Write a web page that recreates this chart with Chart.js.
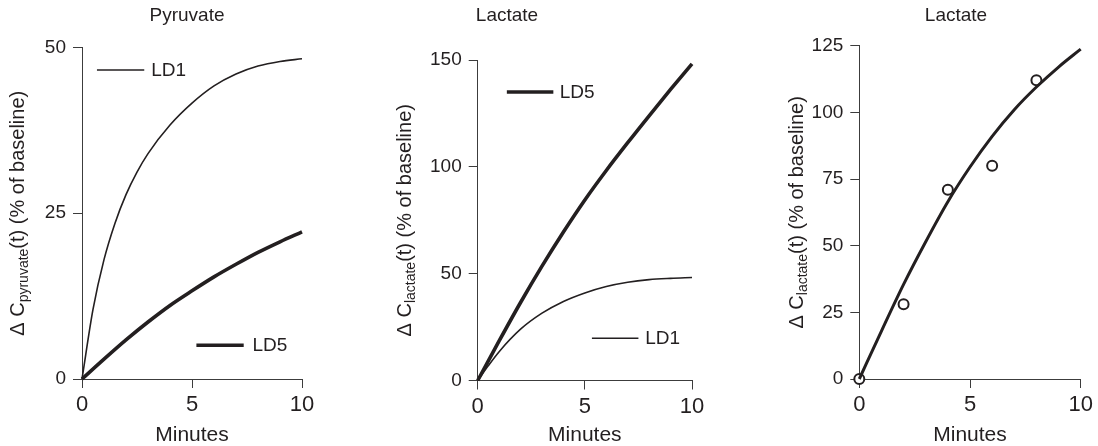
<!DOCTYPE html>
<html>
<head>
<meta charset="utf-8">
<script src="https://cdn.jsdelivr.net/npm/chart.js@4"></script>
<style>
  body { margin: 0; background: #fff; }
  #wrap { position: relative; width: 1098px; height: 446px; }
  canvas { position: absolute; top: 0; }
</style>
</head>
<body>
<div id="wrap">
  <canvas id="p1" width="330" height="446" style="left:0px"></canvas>
  <canvas id="p2" width="380" height="446" style="left:330px"></canvas>
  <canvas id="p3" width="388" height="446" style="left:710px"></canvas>
</div>
<script>
// values (minutes / % of baseline)
const pyrTimeLD1 = [0, 0.5, 1, 1.5, 2, 2.5, 3, 4, 5, 6, 7, 8, 9, 10];
const pyrLD1 = [0, 10.5, 18, 23.5, 27.8, 31.2, 34, 38.3, 41.6, 44.2, 46, 47.2, 47.9, 48.3];
const pyrTimeLD5 = [0, 1, 2, 3, 4, 5, 6, 7, 8, 9, 10];
const pyrLD5 = [0, 3.0, 5.9, 8.6, 11.1, 13.3, 15.4, 17.3, 19.1, 20.7, 22.2];

const lacTimeLD1 = [0, 0.5, 1, 2, 3, 4, 5, 6, 7, 8, 9, 10];
const lacLD1 = [0, 7, 13.5, 24, 31.5, 37, 41, 44, 46, 47.2, 47.8, 48.2];
const lacTimeLD5 = [0, 1, 2, 3, 4, 5, 6, 7, 8, 9, 10];
const lacLD5 = [0, 18.5, 36.5, 53.5, 69.5, 84.5, 98.3, 111.3, 123.9, 136.2, 148.2];

const fitTime = [0, 1, 2, 3, 4, 5, 6, 7, 8, 9, 10];
const lacFit = [0, 18, 35.5, 51.5, 66.5, 79.5, 91, 101, 109.5, 117, 123.7];
const measTime = [0, 2, 4, 6, 8];
const lacMeasured = [0, 28, 71, 80, 112];

const xTicks = [0, 5, 10];
const pyrTicks = [0, 25, 50];
const lacTicks = [0, 50, 100, 150];
const fitTicks = [0, 25, 50, 75, 100, 125];

const INK = '#231f20';
const AXIS = '#3c3c3c';
const FONT = 'Liberation Sans, Arial, Helvetica, sans-serif';

function pairs(xs, ys) {
  return xs.map((x, i) => ({ x: x, y: ys[i] }));
}

// title, rotated y title with subscript and the in-plot labels
const panelText = {
  id: 'panelText',
  afterDraw(chart, args, opts) {
    const ctx = chart.ctx;
    const area = chart.chartArea;
    ctx.save();
    ctx.fillStyle = INK;
    ctx.textBaseline = 'middle';

    ctx.font = '19px ' + FONT;
    ctx.textAlign = 'center';
    ctx.fillText(opts.title, opts.titleX, 16);

    // y title
    const main = '20px ' + FONT, small = '14px ' + FONT;
    const parts = [['\u0394 C', main, 0], [opts.sub, small, 6], ['(t) (% of baseline)', main, 0]];
    let total = 0;
    parts.forEach(p => { ctx.font = p[1]; total += ctx.measureText(p[0]).width; });
    ctx.translate(opts.yTitleX, (area.top + area.bottom) / 2);
    ctx.rotate(-Math.PI / 2);
    ctx.textAlign = 'left';
    let pos = -total / 2;
    parts.forEach(p => {
      ctx.font = p[1];
      ctx.fillText(p[0], pos, p[2]);
      pos += ctx.measureText(p[0]).width;
    });
    ctx.setTransform(1, 0, 0, 1, 0, 0);

    // in-plot legend
    const xs = chart.scales.x, ys = chart.scales.y;
    opts.keys.forEach(k => {
      const y = ys.getPixelForValue(k.y);
      ctx.beginPath();
      ctx.strokeStyle = INK;
      ctx.lineWidth = k.width;
      ctx.moveTo(xs.getPixelForValue(k.from), y);
      ctx.lineTo(xs.getPixelForValue(k.to), y);
      ctx.stroke();
      ctx.font = '19px ' + FONT;
      ctx.textAlign = 'left';
      ctx.fillText(k.label, xs.getPixelForValue(k.textAt), y + 1);
    });
    ctx.restore();
  }
};

function axis(ticks, fitSize, horizontal, titleText) {
  const cfg = {
    type: 'linear',
    min: ticks[0],
    max: ticks[ticks.length - 1],
    ticks: {
      stepSize: ticks[1] - ticks[0],
      color: INK,
      font: { family: FONT, size: horizontal ? 22 : 19 },
      padding: horizontal ? 4 : 7
    },
    grid: { drawOnChartArea: false, drawTicks: true, tickLength: 9, color: AXIS, lineWidth: 1 },
    border: { display: true, color: AXIS, width: 1 },
    afterFit(s) {
      if (horizontal) s.height = fitSize; else s.width = fitSize;
    }
  };
  if (titleText) {
    cfg.title = {
      display: true, text: titleText, color: INK,
      font: { family: FONT, size: 21, lineHeight: 1 },
      padding: { top: 0, bottom: 0 }
    };
  }
  return cfg;
}

function line(points, width) {
  return {
    data: points,
    showLine: true,
    borderColor: INK,
    borderWidth: width,
    pointRadius: 0,
    cubicInterpolationMode: 'monotone',
    fill: false,
    clip: false
  };
}

function makePanel(id, datasets, yTicks, layout, text) {
  return new Chart(document.getElementById(id), {
    type: 'scatter',
    data: { datasets: datasets },
    options: {
      responsive: false,
      animation: false,
      events: [],
      layout: { padding: { top: layout.top, right: layout.right, bottom: 0, left: 0 } },
      scales: {
        x: axis(xTicks, layout.xh, true, 'Minutes'),
        y: axis(yTicks, layout.yw, false, null)
      },
      plugins: {
        legend: { display: false },
        tooltip: { enabled: false },
        panelText: text
      }
    },
    plugins: [panelText]
  });
}

makePanel('p1', [
  line(pairs(pyrTimeLD1, pyrLD1), 1.6),
  line(pairs(pyrTimeLD5, pyrLD5), 3.6)
], pyrTicks, { top: 47.5, right: 28, xh: 67, yw: 82 }, {
  title: 'Pyruvate', titleX: 187, yTitleX: 18, sub: 'pyruvate',
  keys: [
    { from: 0.68, to: 2.83, y: 46.6, width: 1.6, label: 'LD1', textAt: 3.15 },
    { from: 5.2, to: 7.35, y: 5.1, width: 3.6, label: 'LD5', textAt: 7.75 }
  ]
});

makePanel('p2', [
  line(pairs(lacTimeLD1, lacLD1), 1.6),
  line(pairs(lacTimeLD5, lacLD5), 3.6)
], lacTicks, { top: 60, right: 18, xh: 65.5, yw: 147.7 }, {
  title: 'Lactate', titleX: 177, yTitleX: 75, sub: 'lactate',
  keys: [
    { from: 1.36, to: 3.53, y: 135, width: 3.6, label: 'LD5', textAt: 3.83 },
    { from: 5.33, to: 7.5, y: 19.8, width: 1.6, label: 'LD1', textAt: 7.82 }
  ]
});

makePanel('p3', [
  line(pairs(fitTime, lacFit), 3),
  {
    data: pairs(measTime, lacMeasured),
    showLine: false,
    pointStyle: 'circle',
    pointRadius: 5,
    pointBorderWidth: 2,
    pointBorderColor: INK,
    pointBackgroundColor: '#fff',
    clip: false
  }
], fitTicks, { top: 45.7, right: 17.3, xh: 67, yw: 149.3 }, {
  title: 'Lactate', titleX: 246, yTitleX: 87, sub: 'lactate',
  keys: []
});
</script>
</body>
</html>
